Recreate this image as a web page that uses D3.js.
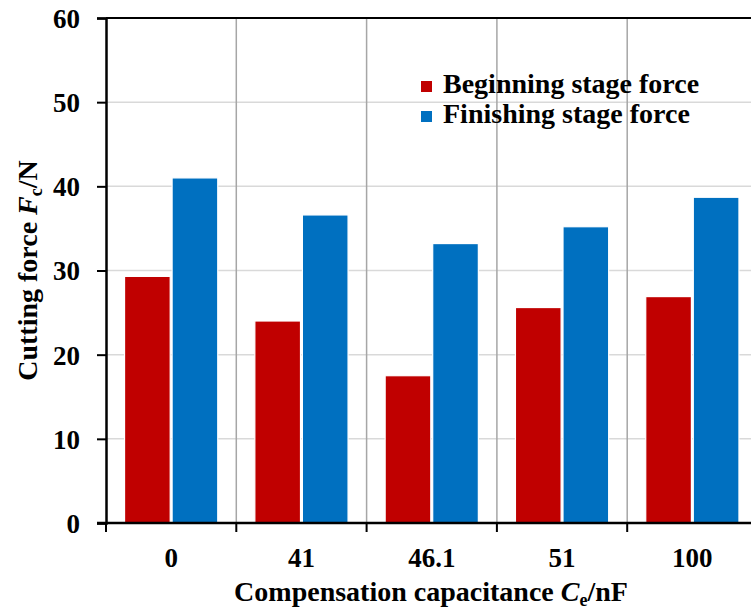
<!DOCTYPE html>
<html>
<head>
<meta charset="utf-8">
<script src="https://cdn.jsdelivr.net/npm/d3@7"></script>
<style>
  body { margin: 0; background: #fff; }
  svg { display: block; overflow: hidden; }
</style>
</head>
<body>
<div id="chart"></div>
<script>
// chart data
var categories = ["0", "41", "46.1", "51", "100"];
var seriesNames = ["Beginning stage force", "Finishing stage force"];
var beginning = [29.3, 24.0, 17.5, 25.6, 26.9];
var finishing = [41.0, 36.6, 33.2, 35.2, 38.7];
var yTicks = [0, 10, 20, 30, 40, 50, 60];
var colors = ["#c00000", "#0070c0"];

var serif = "'Liberation Serif', 'Times New Roman', serif";

var margin = {top: 18, right: 0, bottom: 89, left: 106};
var width = 651.5, height = 505;

var svg = d3.select("#chart").append("svg")
    .attr("width", 751)
    .attr("height", 612)
    .attr("font-family", serif)
    .attr("font-weight", "bold")
  .append("g")
    .attr("transform", "translate(" + margin.left + "," + margin.top + ")");

var x0 = d3.scaleBand().domain(categories).range([0, width]).padding(0);
var x1 = d3.scaleBand().domain([0, 1]).range([0, x0.bandwidth()])
    .paddingInner(0.04).paddingOuter(0.39);
var y = d3.scaleLinear().domain([0, 60]).range([height, 0]);

// horizontal gridlines
svg.append("g").selectAll("line")
    .data(yTicks.slice(1, -1))
    .enter().append("line")
    .attr("x1", 0).attr("x2", width)
    .attr("y1", function(d) { return y(d); })
    .attr("y2", function(d) { return y(d); })
    .attr("stroke", "#d9d9d9")
    .attr("stroke-width", 1.5);

// vertical separators between categories
svg.append("g").selectAll("line")
    .data(categories.slice(1))
    .enter().append("line")
    .attr("x1", function(d) { return x0(d); })
    .attr("x2", function(d) { return x0(d); })
    .attr("y1", 0).attr("y2", height)
    .attr("stroke", "#a6a6a6")
    .attr("stroke-width", 1.5);

// bars
var rows = categories.map(function(c, i) {
    return {cat: c, values: [beginning[i], finishing[i]]};
});

var groups = svg.append("g").selectAll("g")
    .data(rows)
    .enter().append("g")
    .attr("transform", function(d) { return "translate(" + x0(d.cat) + ",0)"; });

groups.selectAll("rect")
    .data(function(d) { return d.values.map(function(v, k) { return {k: k, v: v}; }); })
    .enter().append("rect")
    .attr("x", function(d) { return x1(d.k); })
    .attr("width", x1.bandwidth())
    .attr("y", function(d) { return y(d.v); })
    .attr("height", function(d) { return height - y(d.v); })
    .attr("fill", function(d) { return colors[d.k]; })
    .attr("stroke", "#fff")
    .attr("stroke-width", 1.2);

// top border
svg.append("line")
    .attr("x1", 0).attr("x2", width)
    .attr("y1", 0).attr("y2", 0)
    .attr("stroke", "#000").attr("stroke-width", 2);

// y axis
var yAxis = svg.append("g")
    .call(d3.axisLeft(y).tickValues(yTicks).tickSize(9).tickPadding(17))
    .attr("font-family", serif)
    .attr("font-size", 27);
yAxis.select(".domain").attr("stroke-width", 2.5);
yAxis.selectAll(".tick line").attr("stroke-width", 2);
yAxis.selectAll("text").attr("dy", "0.35em");

// x axis: ticks at category boundaries, labels centered
var xAxis = svg.append("g")
    .attr("transform", "translate(0," + height + ")");
xAxis.append("line")
    .attr("x1", -9).attr("x2", width)
    .attr("stroke", "#000").attr("stroke-width", 2.5);
xAxis.selectAll(".tk")
    .data(categories)
    .enter().append("line")
    .attr("class", "tk")
    .attr("x1", function(d) { return x0(d); })
    .attr("x2", function(d) { return x0(d); })
    .attr("y1", 0).attr("y2", 9)
    .attr("stroke", "#000").attr("stroke-width", 2);
xAxis.selectAll(".lbl")
    .data(categories)
    .enter().append("text")
    .attr("class", "lbl")
    .attr("x", function(d) { return x0(d) + x0.bandwidth() / 2; })
    .attr("y", 44)
    .attr("text-anchor", "middle")
    .attr("font-size", 27)
    .text(function(d) { return d; });

// axis titles
var xt = svg.append("text")
    .attr("x", 325)
    .attr("y", height + 78)
    .attr("text-anchor", "middle")
    .attr("font-size", 28);
xt.append("tspan").text("Compensation capacitance ");
xt.append("tspan").attr("font-style", "italic").text("C");
xt.append("tspan").attr("dy", 5).attr("font-size", 18).text("e");
xt.append("tspan").attr("dy", -5).text("/nF");

var yt = svg.append("text")
    .attr("transform", "translate(" + (-69) + "," + (height / 2) + ") rotate(-90)")
    .attr("text-anchor", "middle")
    .attr("font-size", 28);
yt.append("tspan").text("Cutting force ");
yt.append("tspan").attr("font-style", "italic").text("F");
yt.append("tspan").attr("dy", 5).attr("font-size", 18).text("c");
yt.append("tspan").attr("dy", -5).text("/N");

// legend
var legend = svg.append("g")
    .attr("transform", "translate(315,63)");
seriesNames.forEach(function(name, i) {
    var row = legend.append("g").attr("transform", "translate(0," + (i * 30) + ")");
    row.append("rect")
        .attr("width", 11).attr("height", 11)
        .attr("fill", colors[i]);
    row.append("text")
        .attr("x", 22).attr("y", 12)
        .attr("font-size", 28)
        .text(name);
});
</script>
</body>
</html>
